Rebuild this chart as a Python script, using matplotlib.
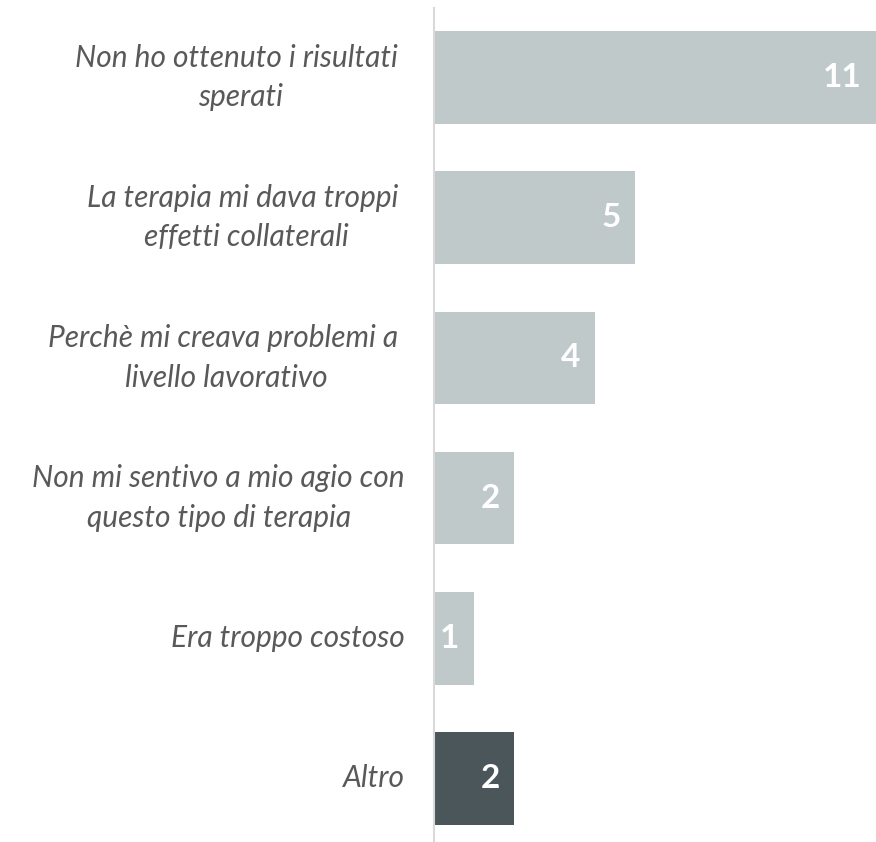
import matplotlib
matplotlib.use("Agg")
import matplotlib.pyplot as plt

categories = [
    "Non ho ottenuto i risultati \nsperati",
    "La terapia mi dava troppi \neffetti collaterali",
    "Perchè mi creava problemi a \nlivello lavorativo",
    "Non mi sentivo a mio agio con\nquesto tipo di terapia",
    "Era troppo costoso",
    "Altro",
]
values = [11, 5, 4, 2, 1, 2]
colors = ["#BFC9CA", "#BFC9CA", "#BFC9CA", "#BFC9CA", "#BFC9CA", "#4A5659"]

fig = plt.figure(figsize=(8.76, 8.42), dpi=100)
ax = fig.add_axes([434 / 876, 0.0, 1 - 434 / 876, (842 - 8) / 842])

y = list(range(len(categories)))
ax.barh(y, values, height=0.66, color=colors)
ax.set_xlim(0, 11)
ax.set_ylim(5.453, -0.496)

for yi, v in zip(y, values):
    ax.text(v - 0.36, yi, str(v), ha="right", va="center", color="white",
            fontsize=24, fontweight="bold", family="Lato")

for yi, c in zip(y, categories):
    ax.text(-0.72, yi, c, ha="right", va="center", multialignment="center",
            color="#595959", fontsize=21.5, style="italic", family="Lato",
            linespacing=1.5, transform=ax.transData)

ax.set_xticks([])
ax.set_yticks([])
for s in ["top", "right", "bottom"]:
    ax.spines[s].set_visible(False)
ax.spines["left"].set_color("#D9D9D9")
ax.spines["left"].set_linewidth(1.5)

fig.savefig("out.png", dpi=100)
